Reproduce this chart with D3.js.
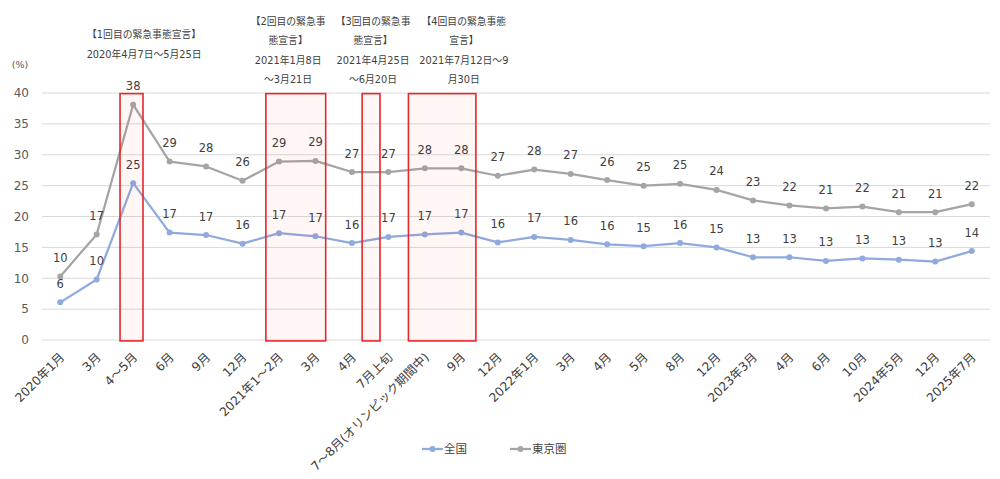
<!DOCTYPE html>
<html>
<head>
<meta charset="utf-8">
<script src="https://cdn.jsdelivr.net/npm/d3@7"></script>
<style>
  body { margin: 0; background: #fff; }
  svg { display: block; }
  text { font-family: "DejaVu Sans", "Noto Sans CJK JP", sans-serif; }
</style>
</head>
<body>
<div id="chart"></div>
<script>
// x categories (survey timing)
const categories = [
    '2020年1月', '3月', '4～5月', '6月', '9月', '12月',
    '2021年1～2月', '3月', '4月', '7月上旬', '7～8月(オリンピック期間中)', '9月', '12月',
    '2022年1月', '3月', '4月', '5月', '8月', '12月',
    '2023年3月', '4月', '6月', '10月', '2024年5月', '12月', '2025年7月'
];

// 全国
const national = [
    6.1, 9.8, 25.4, 17.4, 17.0, 15.6,
    17.3, 16.8, 15.7, 16.7, 17.1, 17.4, 15.8,
    16.7, 16.2, 15.5, 15.2, 15.7, 15.0,
    13.4, 13.4, 12.8, 13.2, 13.0, 12.7, 14.4
];

// 東京圏
const tokyo = [
    10.3, 17.1, 38.1, 28.9, 28.1, 25.8,
    28.9, 29.0, 27.2, 27.2, 27.8, 27.8, 26.6,
    27.6, 26.9, 25.9, 25.0, 25.3, 24.3,
    22.6, 21.8, 21.3, 21.6, 20.7, 20.7, 22.0
];

const yTicks = [0, 5, 10, 15, 20, 25, 30, 35, 40];

// state of emergency periods, in category positions (index units)
const declarations = [
    { from: 1.64, to: 2.27, labelAt: 2.30, lines: ['【1回目の緊急事態宣言】', '2020年4月7日～5月25日'] },
    { from: 5.64, to: 7.28, labelAt: 6.25, lines: ['【2回目の緊急事', '態宣言】', '2021年1月8日', '～3月21日'] },
    { from: 8.28, to: 8.77, labelAt: 8.58, lines: ['【3回目の緊急事', '態宣言】', '2021年4月25日', '～6月20日'] },
    { from: 9.55, to: 11.40, labelAt: 11.07, lines: ['【4回目の緊急事態', '宣言】', '2021年7月12日～9', '月30日'] }
];

const seriesList = [
    { name: '全国', values: national, color: '#8faadc' },
    { name: '東京圏', values: tokyo, color: '#a5a5a5' }
];

const width = 1000, height = 479;
const plotLeft = 42, plotRight = 990, plotTop = 93, plotBottom = 340;

const svg = d3.select('#chart').append('svg')
    .attr('width', width)
    .attr('height', height);

const x = d3.scaleBand()
    .domain(d3.range(categories.length))
    .range([plotLeft, plotRight])
    .paddingInner(0)
    .paddingOuter(0);

// same axis, but continuous (center of category i is at i)
const xPos = d3.scaleLinear()
    .domain([-0.5, categories.length - 0.5])
    .range([plotLeft, plotRight]);

const y = d3.scaleLinear()
    .domain([0, 40])
    .range([plotBottom, plotTop]);

const cx = i => x(i) + x.bandwidth() / 2;

// gridlines
svg.append('g')
    .selectAll('line')
    .data(yTicks)
    .enter().append('line')
    .attr('x1', plotLeft)
    .attr('x2', plotRight)
    .attr('y1', d => y(d))
    .attr('y2', d => y(d))
    .attr('stroke', '#d9d9d9')
    .attr('stroke-width', 1);

// y tick labels
svg.append('g')
    .selectAll('text')
    .data(yTicks)
    .enter().append('text')
    .attr('x', 29)
    .attr('y', d => y(d))
    .attr('dy', '0.36em')
    .attr('text-anchor', 'end')
    .style('font-size', '12px')
    .style('fill', '#595959')
    .text(d => d);

svg.append('text')
    .attr('x', 20)
    .attr('y', 65)
    .attr('dy', '0.35em')
    .attr('text-anchor', 'middle')
    .style('font-size', '9.5px')
    .style('fill', '#595959')
    .text('(%)');

// x tick labels, rotated
svg.append('g')
    .selectAll('text')
    .data(categories)
    .enter().append('text')
    .attr('transform', (d, i) => `translate(${cx(i) + 5},${plotBottom + 18}) rotate(-45)`)
    .attr('text-anchor', 'end')
    .style('font-size', '12.3px')
    .style('fill', '#404040')
    .text(d => d);

// lines + markers
const line = d3.line()
    .x((d, i) => cx(i))
    .y(d => y(d));

seriesList.forEach(s => {
    const g = svg.append('g');
    g.append('path')
        .attr('d', line(s.values))
        .attr('fill', 'none')
        .attr('stroke', s.color)
        .attr('stroke-width', 2.25)
        .attr('stroke-linejoin', 'round');
    g.selectAll('circle')
        .data(s.values)
        .enter().append('circle')
        .attr('cx', (d, i) => cx(i))
        .attr('cy', d => y(d))
        .attr('r', 3)
        .attr('fill', s.color);
});

// emergency declaration boxes
svg.append('g')
    .selectAll('rect')
    .data(declarations)
    .enter().append('rect')
    .attr('x', d => xPos(d.from))
    .attr('width', d => xPos(d.to) - xPos(d.from))
    .attr('y', y(39.9))
    .attr('height', y(-0.15) - y(39.9))
    .attr('fill', 'rgba(255, 0, 0, 0.035)')
    .attr('stroke', '#e8262b')
    .attr('stroke-width', 1.6);

// data labels
seriesList.forEach(s => {
    svg.append('g')
        .selectAll('text')
        .data(s.values)
        .enter().append('text')
        .attr('x', (d, i) => cx(i))
        .attr('y', d => y(d) - 14.5)
        .attr('text-anchor', 'middle')
        .style('font-size', '11.5px')
        .style('fill', '#404040')
        .text(d => Math.round(d));
});

// declaration captions
const caption = svg.append('g')
    .selectAll('text')
    .data(declarations)
    .enter().append('text')
    .attr('text-anchor', 'middle')
    .style('font-size', '9.8px')
    .style('fill', '#404040');

caption.each(function (d) {
    const top = d.lines.length === 2 ? 35 : 21.5;
    d3.select(this).selectAll('tspan')
        .data(d.lines)
        .enter().append('tspan')
        .attr('x', xPos(d.labelAt))
        .attr('y', (t, k) => top + k * 19.3)
        .attr('dy', '0.35em')
        .text(t => t);
});

// legend
const legendX = [422, 510];
const legend = svg.append('g')
    .selectAll('g')
    .data(seriesList)
    .enter().append('g')
    .attr('transform', (d, i) => `translate(${legendX[i]},449)`);

legend.append('line')
    .attr('x1', 0).attr('x2', 21)
    .attr('stroke', d => d.color)
    .attr('stroke-width', 2.25);
legend.append('circle')
    .attr('cx', 10.5)
    .attr('r', 3)
    .attr('fill', d => d.color);
legend.append('text')
    .attr('x', 22)
    .attr('dy', '0.35em')
    .style('font-size', '11.5px')
    .style('fill', '#404040')
    .text(d => d.name);
</script>
</body>
</html>
